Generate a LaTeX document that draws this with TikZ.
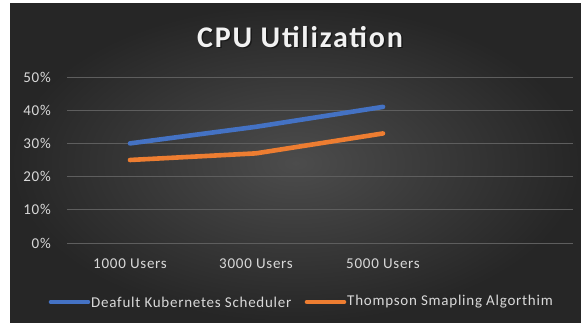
\documentclass[tikz,border=0pt]{standalone}
\usepackage{fontspec}
\setmainfont{Carlito}
\newfontfamily\chartfont[LetterSpace=5]{Carlito}
\newfontfamily\titlefont[LetterSpace=6]{Carlito}
\definecolor{panelmid}{HTML}{4C4C4C}
\definecolor{paneledge}{HTML}{262626}
\definecolor{gridgray}{HTML}{5E5E5E}
\definecolor{labelgray}{HTML}{D9D9D9}
\definecolor{titlewhite}{HTML}{F2F2F2}
\definecolor{seriesblue}{HTML}{4472C4}
\definecolor{seriesorange}{HTML}{ED7D31}
\begin{document}
\begin{tikzpicture}[x=1pt,y=-1pt,
  gridline/.style={draw=gridgray,line width=0.8pt},
  ticklabel/.style={text=labelgray,font=\chartfont\fontsize{15}{17}\selectfont,anchor=east,inner sep=0pt},
  catlabel/.style={text=labelgray,font=\chartfont\fontsize{15}{17}\selectfont,anchor=center,inner sep=0pt},
  legendtext/.style={text=labelgray,font=\chartfont\fontsize{15}{17}\selectfont,anchor=west,inner sep=0pt},
  titletext/.style={font=\titlefont\fontsize{30}{34}\selectfont\bfseries},
  series/.style={line width=4.6pt,line cap=round,line join=round},
  keyline/.style={line width=4.6pt,line cap=round}]
% page and chart panel
\fill[white] (0,0) rectangle (581,323);
\useasboundingbox (0,0) rectangle (581,323);
\shade[inner color=panelmid,outer color=paneledge] (10,4) rectangle (581,322);

% title with soft shadow
\node[titletext,text=black,opacity=0.45] at (301.5,38.5) {CPU Utilization};
\node (title) [titletext,text=titlewhite] at (300,37) {CPU Utilization};

% horizontal gridlines and value labels (0% at y=243, 33.2 per 10%)
\foreach \v/\lab in {0/0\%,10/10\%,20/20\%,30/30\%,40/40\%,50/50\%}{
  \coordinate (gl\v) at (67,243-3.32*\v);
  \coordinate (gr\v) at (573,243-3.32*\v);
  \draw[gridline] (gl\v) -- (gr\v);
  \node[ticklabel] (tick\v) at (51,243-3.32*\v) {\lab};
}

% category labels
\node[catlabel] (cat1) at (130,264) {1000 Users};
\node[catlabel] (cat2) at (256,264) {3000 Users};
\node[catlabel] (cat3) at (383,264) {5000 Users};

% data points
\coordinate (b1) at (130,243-3.32*30);
\coordinate (b2) at (256,243-3.32*35);
\coordinate (b3) at (383,243-3.32*41);
\coordinate (o1) at (130,243-3.32*25);
\coordinate (o2) at (256,243-3.32*27);
\coordinate (o3) at (383,243-3.32*33);

\draw[series,seriesorange] (o1) -- (o2) -- (o3);
\draw[series,seriesblue] (b1) -- (b2) -- (b3);

% legend
\coordinate (kb1) at (51,302);
\coordinate (kb2) at (88,302);
\draw[keyline,seriesblue] (kb1) -- (kb2);
\node[legendtext] (legb) at (91,302) {Deafult Kubernetes Scheduler};
\coordinate (ko1) at (307,302);
\coordinate (ko2) at (344,302);
\draw[keyline,seriesorange] (ko1) -- (ko2);
\node[legendtext] (lego) at (347,302) {Thompson Smapling Algorthim};
\end{tikzpicture}
\end{document}
